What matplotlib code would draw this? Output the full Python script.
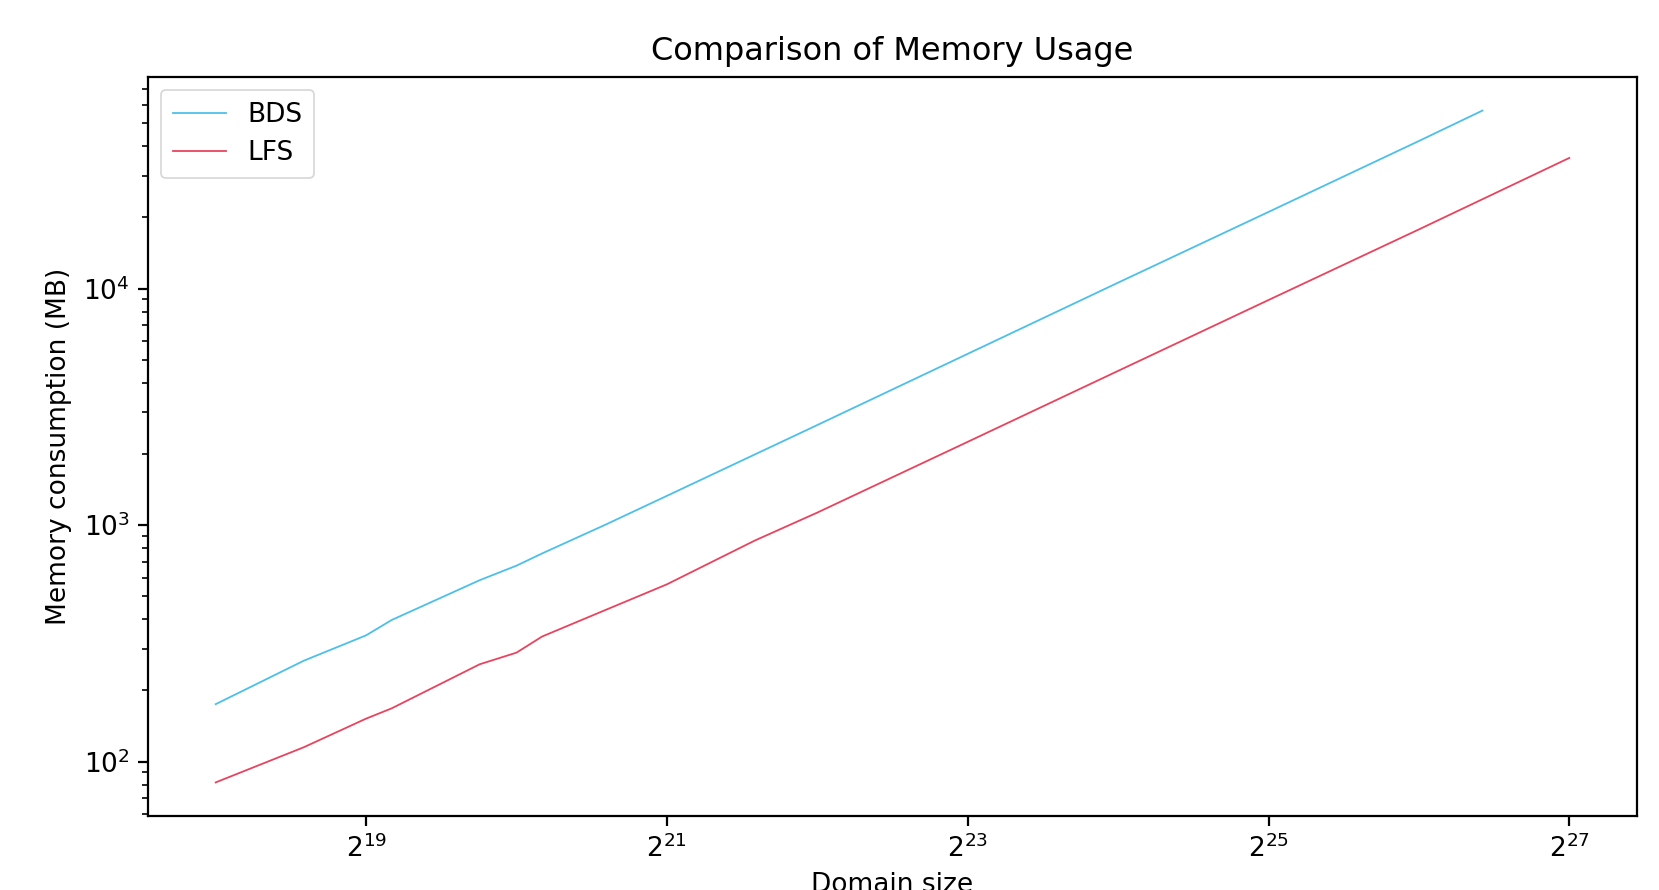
import matplotlib
matplotlib.use("Agg")
import matplotlib.pyplot as plt
from matplotlib.ticker import LogFormatterSciNotation, NullLocator, FixedLocator

# Domain sizes (cells) and memory consumption (MB)
bds_size = [262144, 393216, 524288, 589824, 884736, 1048576, 1179648, 1572864,
            2097152, 4194304, 8388608, 16777216, 33554432, 67108864, 89915392]
bds_mem = [175, 267, 342, 397, 585, 674, 759, 1000,
           1330, 2650, 5300, 10600, 21100, 42100, 56600]

lfs_size = [262144, 393216, 524288, 589824, 884736, 1048576, 1179648, 1572864,
            2097152, 3145728, 4194304, 8388608, 16777216, 33554432, 67108864, 134217728]
lfs_mem = [81.7, 115, 152, 168, 258, 289, 338, 436,
           562, 861, 1130, 2250, 4490, 8950, 17800, 35700]

xtick_pos = [2**19, 2**21, 2**23, 2**25, 2**27]

title = "Comparison of Memory Usage"
xlabel = "Domain size"
ylabel = "Memory consumption (MB)"

W, H, DPI = 1659, 890, 100
fig = plt.figure(figsize=(W / DPI, H / DPI), dpi=DPI)
ax = fig.add_axes([148 / W, 1 - 816 / H, (1637 - 148) / W, (816 - 77) / H])

ax.plot(bds_size, bds_mem, color="#4cc0e8", lw=1.3, label="BDS")
ax.plot(lfs_size, lfs_mem, color="#e9435e", lw=1.3, label="LFS")

ax.set_xscale("log", base=2)
ax.set_yscale("log")
ax.xaxis.set_major_locator(FixedLocator(xtick_pos))
ax.xaxis.set_major_formatter(LogFormatterSciNotation(base=2))
ax.xaxis.set_minor_locator(NullLocator())

for s in ax.spines.values():
    s.set_linewidth(1.6)
ax.tick_params(which="major", length=7, width=1.6, labelsize=19, pad=6)
ax.tick_params(which="minor", length=4, width=1.2)

ax.set_title(title, fontsize=23, pad=12)
ax.set_xlabel(xlabel, fontsize=19, labelpad=7)
ax.set_ylabel(ylabel, fontsize=19, labelpad=8)

leg = ax.legend(loc="upper left", fontsize=19, handlelength=2.0, borderpad=0.45,
                labelspacing=0.45, handletextpad=0.8)
leg.get_frame().set_linewidth(1.2)

fig.savefig("out.png", dpi=DPI)
